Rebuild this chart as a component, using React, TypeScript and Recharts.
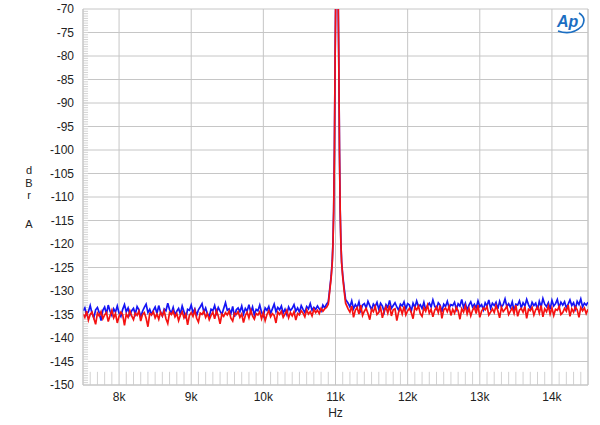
import React from 'react';
import { LineChart, Line, XAxis, YAxis, CartesianGrid, ReferenceLine } from 'recharts';

document.body.style.margin = '0';

// FFT bins outside the tone are 25 Hz apart
const BIN = 25;
const LEFT_START = 7500;
const RIGHT_START = 11175;

// noise floor below the tone (7.5k .. 10.875k)
const BLUE_LEFT = [
  -134.2, -133.6, -135.0, -134.4, -133.1, -134.8, -135.7, -134.0, -133.5, -134.6,
  -136.3, -134.1, -133.4, -134.9, -133.0, -134.3, -135.2, -133.8, -134.5, -133.2,
  -134.7, -135.4, -133.9, -132.9, -134.4, -133.6, -135.1, -134.2, -133.7, -134.9,
  -133.3, -134.0, -135.6, -134.3, -133.5, -132.8, -134.6, -133.9, -135.0, -134.1,
  -133.4, -134.8, -133.1, -134.5, -135.3, -133.8, -134.2, -132.6, -134.0, -134.7,
  -133.5, -135.1, -134.3, -133.7, -134.9, -133.2, -134.4, -135.8, -133.9, -134.1,
  -133.0, -134.6, -133.8, -135.2, -134.0, -133.4, -132.7, -134.5, -133.6, -134.9,
  -135.4, -133.9, -134.2, -133.1, -134.7, -133.5, -134.3, -135.0, -133.7, -132.5,
  -134.1, -133.8, -134.8, -133.3, -135.5, -134.0, -133.6, -134.4, -133.2, -134.9,
  -133.7, -134.3, -132.9, -134.6, -133.4, -135.1, -133.9, -134.2, -133.0, -134.5,
  -135.3, -133.6, -134.1, -133.3, -134.8, -133.8, -132.8, -134.4, -133.5, -134.0,
  -133.2, -134.7, -133.9, -135.0, -133.4, -134.2, -133.7, -132.9, -134.3, -133.6,
  -134.5, -133.1, -133.9, -134.6, -133.3, -133.8, -132.7, -134.1, -133.5, -133.9,
  -133.2, -133.8, -134.3, -133.0, -133.6, -132.8,
];
const RED_LEFT = [
  -134.9, -135.6, -134.3, -136.2, -135.0, -134.5, -135.8, -137.1, -134.7, -135.3,
  -134.4, -135.9, -135.1, -134.6, -136.5, -135.2, -134.1, -135.7, -134.8, -136.8,
  -135.4, -134.5, -135.0, -137.3, -134.9, -135.6, -134.2, -135.3, -136.1, -134.7,
  -135.2, -134.3, -136.4, -135.0, -134.6, -135.8, -137.6, -134.8, -135.1, -134.4,
  -135.7, -134.9, -136.0, -134.5, -135.3, -134.2, -135.9, -136.9, -134.6, -135.0,
  -134.3, -135.5, -134.8, -136.3, -135.1, -134.4, -135.7, -134.9, -137.2, -135.2,
  -134.6, -135.4, -134.1, -135.8, -136.6, -134.7, -135.0, -134.3, -135.6, -134.8,
  -136.1, -135.2, -134.5, -135.9, -134.2, -135.3, -137.0, -134.9, -135.4, -134.6,
  -135.1, -134.3, -135.8, -136.4, -134.7, -135.0, -134.4, -135.6, -134.9, -136.7,
  -135.2, -134.5, -135.7, -134.1, -135.3, -136.0, -134.8, -135.1, -134.4, -135.9,
  -134.6, -136.3, -135.0, -134.2, -135.5, -134.8, -135.2, -136.8, -134.5, -135.0,
  -134.3, -135.6, -134.9, -134.1, -135.7, -134.6, -135.3, -134.4, -136.2, -134.8,
  -135.1, -134.2, -134.7, -135.5, -134.0, -134.9, -134.4, -135.3, -133.9, -134.6,
  -134.1, -134.8, -133.7, -134.3, -133.8, -133.5,
];

// the 11 kHz tone and its skirts
const PEAK_FREQS = [10900, 10920, 10940, 10955, 10965, 10975, 10985, 10995, 11005, 11020, 11035, 11045, 11055, 11065, 11075, 11085, 11100, 11120, 11140];
const PEAK_BLUE = [-132.3, -129.6, -126.8, -123.6, -119.6, -112.6, -99.8, -79.8, -64.8, -45, -64.8, -79.8, -99.8, -112.8, -119.8, -123.8, -126.6, -129.4, -131.8];
const PEAK_RED = [-132.8, -130.0, -127.1, -124.0, -120.0, -113.0, -100.0, -80.0, -65.0, -45, -65.0, -80.0, -100.0, -113.0, -120.0, -124.0, -127.0, -130.0, -132.6];

// noise floor above the tone (11.175k .. 14.5k)
const BLUE_RIGHT = [
  -132.6, -133.4, -132.1, -133.8, -132.9, -133.5, -132.3, -134.2, -133.0, -132.7,
  -133.6, -132.2, -133.1, -134.0, -132.8, -133.3, -132.4, -133.9, -132.6, -133.2,
  -134.5, -132.9, -133.5, -132.0, -133.7, -133.1, -132.5, -133.4, -134.1, -132.8,
  -133.2, -132.3, -133.8, -132.7, -133.0, -134.3, -132.6, -133.5, -132.1, -133.3,
  -132.9, -133.7, -132.4, -134.0, -133.1, -132.6, -133.4, -131.9, -133.2, -133.8,
  -132.5, -133.0, -134.4, -132.8, -133.3, -132.2, -133.6, -132.9, -133.1, -132.4,
  -133.9, -132.7, -133.2, -131.8, -133.5, -132.6, -134.1, -133.0, -132.3, -133.4,
  -132.8, -133.6, -132.1, -133.3, -132.9, -134.0, -132.5, -133.2, -131.9, -133.7,
  -132.6, -133.1, -132.4, -133.8, -132.2, -133.4, -132.9, -131.7, -133.3, -132.7,
  -133.5, -132.3, -134.2, -132.8, -133.0, -132.1, -133.6, -132.5, -133.2, -131.8,
  -132.9, -133.7, -132.4, -133.1, -132.6, -134.0, -132.2, -133.4, -131.6, -132.8,
  -133.3, -132.5, -133.9, -132.0, -133.2, -132.7, -131.8, -133.5, -132.4, -133.0,
  -132.3, -133.6, -132.8, -131.9, -133.1, -132.5, -133.8, -132.2, -132.9, -131.7,
  -133.4, -132.6, -133.0, -132.4,
];
const RED_RIGHT = [
  -133.8, -134.5, -133.2, -135.6, -134.1, -133.5, -134.9, -133.0, -135.2, -134.3,
  -133.7, -134.8, -136.1, -133.9, -134.4, -133.3, -135.0, -134.6, -133.6, -135.7,
  -134.2, -133.4, -134.7, -133.1, -135.3, -134.0, -133.8, -136.3, -134.5, -133.6,
  -134.9, -133.3, -135.1, -134.2, -133.7, -134.6, -135.9, -133.5, -134.0, -133.2,
  -134.8, -135.4, -133.6, -134.3, -133.0, -134.7, -133.9, -135.5, -134.1, -133.4,
  -134.6, -133.1, -135.8, -134.0, -133.6, -134.4, -133.3, -135.2, -133.9, -134.7,
  -133.5, -134.2, -136.0, -133.8, -134.5, -133.2, -134.9, -133.7, -135.3, -134.1,
  -133.4, -134.8, -133.0, -135.6, -134.3, -133.6, -134.0, -133.3, -135.1, -134.5,
  -133.8, -134.6, -133.1, -134.2, -135.7, -133.5, -134.4, -133.9, -133.2, -135.0,
  -134.3, -133.6, -134.8, -133.0, -135.4, -134.1, -133.7, -134.5, -133.3, -135.8,
  -133.9, -134.2, -133.5, -135.1, -134.0, -133.4, -134.7, -133.1, -135.5, -133.8,
  -134.4, -133.2, -134.9, -133.6, -135.2, -133.9, -134.1, -133.3, -135.0, -134.6,
  -133.7, -134.3, -133.0, -135.4, -133.8, -134.5, -133.4, -134.0, -135.6, -133.5,
  -134.2, -133.6, -134.8, -133.9,
];

const X_TICKS = [8000, 9000, 10000, 11000, 12000, 13000, 14000];
const Y_TICKS = [-150, -145, -140, -135, -130, -125, -120, -115, -110, -105, -100, -95, -90, -85, -80, -75, -70];
// minor tick marks: every 100 Hz along the bottom, every 0.5 dB up the left side
const X_MINOR = Array.from({ length: 69 }, (_, i) => 7600 + i * 100).filter((f) => f % 1000 !== 0);
const Y_MINOR = Array.from({ length: 159 }, (_, i) => -149.5 + i * 0.5);

const data = [
  ...BLUE_LEFT.map((b, i) => ({ f: LEFT_START + i * BIN, blue: b, red: RED_LEFT[i] })),
  ...PEAK_FREQS.map((f, i) => ({ f, blue: PEAK_BLUE[i], red: PEAK_RED[i] })),
  ...BLUE_RIGHT.map((b, i) => ({ f: RIGHT_START + i * BIN, blue: b, red: RED_RIGHT[i] })),
];

const GRID = '#c6c6c6';
const MINOR = '#d2d2d2';
const FONT = '"Liberation Sans", Arial, sans-serif';
const tickStyle = { fill: '#222', fontSize: 12, fontFamily: FONT };
const titleStyle = { fill: '#222', fontSize: 11, fontFamily: FONT };

const YTitle = () => (
  <g>
    <text x={29} y={174} textAnchor="middle" style={titleStyle}>d</text>
    <text x={29} y={187} textAnchor="middle" style={titleStyle}>B</text>
    <text x={29} y={199} textAnchor="middle" style={titleStyle}>r</text>
    <text x={29} y={228} textAnchor="middle" style={titleStyle}>A</text>
  </g>
);

const XTitle = (props: any) => {
  const { x, y, width } = props.viewBox;
  return (
    <text x={x + width / 2} y={y + 32} textAnchor="middle" style={tickStyle}>Hz</text>
  );
};

const ApLogo = () => (
  <svg width={36} height={26} style={{ position: 'absolute', left: 552, top: 9 }}>
    <path d="M6 22 Q20 27 30 17 Q35 9 27 4" fill="none" stroke="#1b6ec2" strokeWidth={1.6} />
    <text x={5} y={18} fill="#1b6ec2" fontSize={16} fontStyle="italic" fontWeight="bold" fontFamily={FONT}>Ap</text>
  </svg>
);

export default function App() {
  return (
    <div style={{ position: 'relative', width: 600, height: 425, background: '#fff' }}>
      <LineChart width={600} height={425} data={data} margin={{ top: 9, right: 12, bottom: 10, left: 0 }}>
        <CartesianGrid stroke={GRID} strokeWidth={1} />
        <XAxis
          dataKey="f"
          type="number"
          domain={[7500, 14500]}
          ticks={X_TICKS}
          interval={0}
          allowDataOverflow
          height={30}
          tickFormatter={(v) => `${v / 1000}k`}
          tick={tickStyle}
          tickLine={false}
          axisLine={{ stroke: GRID }}
          tickMargin={1}
          label={{ content: XTitle }}
        />
        <YAxis
          type="number"
          domain={[-150, -70]}
          ticks={Y_TICKS}
          interval={0}
          allowDataOverflow
          width={83}
          tick={tickStyle}
          tickLine={false}
          axisLine={{ stroke: GRID }}
          tickMargin={3}
          label={{ content: YTitle }}
        />
        <ReferenceLine x={14500} stroke={GRID} />
        {X_MINOR.map((f) => (
          <ReferenceLine key={`xm${f}`} segment={[{ x: f, y: -150 }, { x: f, y: -147.2 }]} stroke={MINOR} />
        ))}
        {Y_MINOR.map((v) => (
          <ReferenceLine key={`ym${v}`} segment={[{ x: 7500, y: v }, { x: 7570, y: v }]} stroke={MINOR} />
        ))}
        <Line type="linear" dataKey="blue" stroke="#1414f5" strokeWidth={1.7} dot={false} isAnimationActive={false} />
        <Line type="linear" dataKey="red" stroke="#f51212" strokeWidth={1.7} dot={false} isAnimationActive={false} />
      </LineChart>
      <ApLogo />
    </div>
  );
}
